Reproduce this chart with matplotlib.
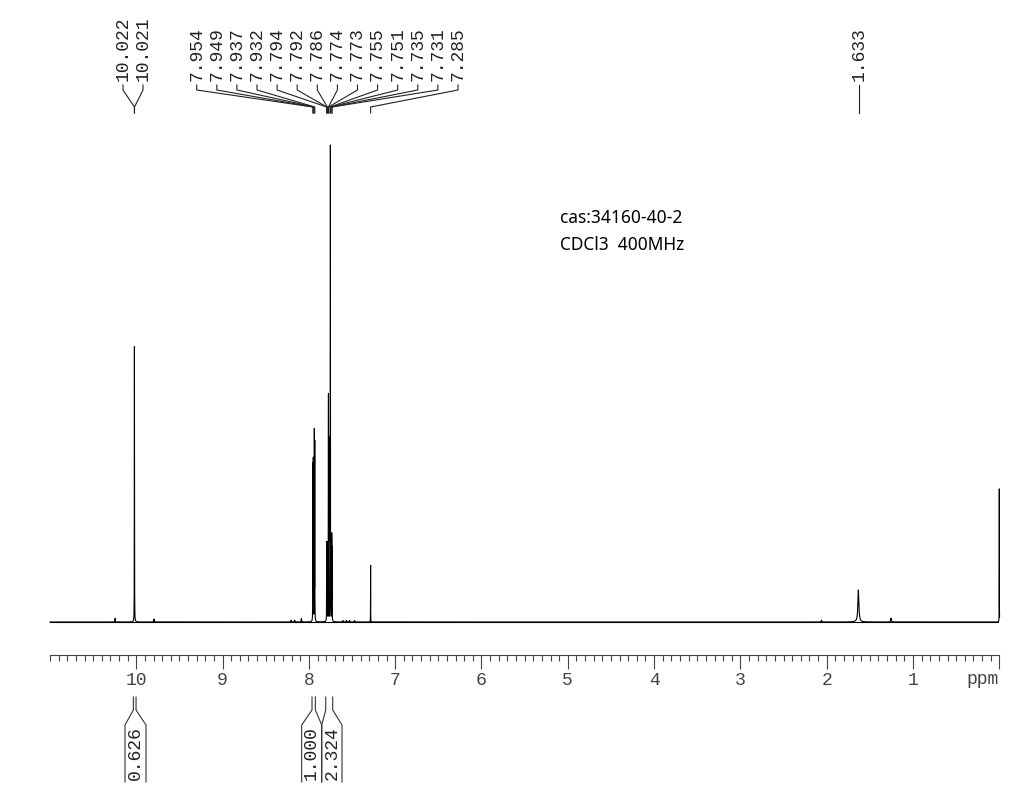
import numpy as np
import matplotlib

matplotlib.use("Agg")
import matplotlib.pyplot as plt
from matplotlib.ticker import MultipleLocator

# peak list: shift (ppm), height (tallest line = 100), half width (ppm)
peak_ppm = [10.245, 10.022, 10.021, 9.795, 8.205, 8.165, 8.087, 7.954, 7.949, 7.937, 7.932,
            7.794, 7.792, 7.786, 7.774, 7.773, 7.755, 7.751, 7.735, 7.731,
            7.605, 7.565, 7.530, 7.470, 7.285, 2.060, 1.633, 1.255, 0.000]
peak_height = [0.8, 40.0, 40.0, 0.6, 0.4, 0.4, 0.7, 32.5, 33.5, 39.5, 37.0,
               14.5, 14.5, 10.0, 33.0, 33.0, 35.0, 98.5, 17.8, 15.0,
               0.3, 0.3, 0.3, 0.3, 11.9, 0.4, 6.7, 0.8, 27.9]
peak_width = [0.002, 0.0008, 0.0008, 0.002, 0.003, 0.003, 0.003, 0.0008, 0.0008, 0.0008, 0.0008,
              0.0008, 0.0008, 0.0008, 0.0008, 0.0008, 0.0008, 0.0008, 0.0008, 0.0008,
              0.003, 0.003, 0.003, 0.003, 0.0006, 0.003, 0.007, 0.004, 0.0006]

# picked peak labels
label_ppm = [10.022, 10.021, 7.954, 7.949, 7.937, 7.932, 7.794, 7.792, 7.786,
             7.774, 7.773, 7.755, 7.751, 7.735, 7.731, 7.285, 1.633]

# integrals: (from, to) in ppm and value
integral_ranges = [(10.034, 10.003), (7.964, 7.925), (7.805, 7.724)]
integral_values = [0.626, 1.000, 2.324]

note_lines = ["cas:34160-40-2", "CDCl3  400MHz"]

W, H = 1023, 805
MONO = "Liberation Mono"

fig = plt.figure(figsize=(W / 100, H / 100), dpi=100)

# spectrum axes: axis line at y=655 px from top, baseline at 622, tallest top at 145
ax = fig.add_axes([50 / W, (H - 655) / H, 949.3 / W, 542 / H])
ppm = np.linspace(-0.003, 11.0, 220001)
spec = np.zeros_like(ppm)
for p, h, w in zip(peak_ppm, peak_height, peak_width):
    spec += h * w**2 / ((ppm - p) ** 2 + w**2)
ax.plot(ppm, spec, color="black", lw=0.8, clip_on=False)
ax.plot([11.0, 0.0], [0, 0], color="black", lw=0.8)

ax.set_xlim(11.0, 0.0)
ax.set_ylim(-33 / 4.77, (622 - 113) / 4.77)
for side in ["top", "left", "right"]:
    ax.spines[side].set_visible(False)
ax.spines["bottom"].set_color("#444444")
ax.spines["bottom"].set_linewidth(0.8)
ax.set_yticks([])
ax.set_xticks(range(0, 11))
ax.set_xticklabels([""] + [str(i) for i in range(1, 11)])
ax.xaxis.set_minor_locator(MultipleLocator(0.1))
ax.tick_params(axis="x", which="major", length=10, width=0.8, color="#444444",
               labelsize=13, labelcolor="#444444", pad=2)
ax.tick_params(axis="x", which="minor", length=4, width=0.8, color="#444444")
for t in ax.get_xticklabels():
    t.set_fontfamily(MONO)
ax.patch.set_alpha(0)

# overlay in pixel coordinates (y from top) for labels and integral brackets
ov = fig.add_axes([0, 0, 1, 1])
ov.set_xlim(0, W)
ov.set_ylim(H, 0)
ov.axis("off")


def px(p):
    return ax.transData.transform((p, 0))[0]


ov.text(999, 679, "ppm", ha="right", va="center", fontfamily=MONO,
        fontsize=13, color="#444444")

# peak label positions (layout)
label_x = [123, 143] + list(np.linspace(196.7, 458, 14)) + [859]
for xl, p in zip(label_x, label_ppm):
    ov.text(xl, 81, f"{p:.3f}", rotation=90, ha="center", va="bottom",
            fontfamily=MONO, fontsize=13, color="#222222")
    xp = px(p)
    if abs(xp - xl) < 1.5:
        ov.plot([xl, xl], [85, 113], color="#222222", lw=0.8)
    else:
        ov.plot([xl, xl, xp, xp], [85, 90, 107, 113], color="#222222", lw=0.8)

# integral brackets
box_edges = [(125, 146), (301.7, 321.7), (321.7, 342)]
for (hi, lo), val, (bl, br) in zip(integral_ranges, integral_values, box_edges):
    x1, x2 = px(hi), px(lo)
    ov.plot([x1, x1, bl, bl], [697, 710, 725, 782], color="#333333", lw=0.8)
    ov.plot([x2, x2, br, br], [697, 710, 725, 782], color="#333333", lw=0.8)
    ov.text((bl + br) / 2, 780, f"{val:.3f}", rotation=90, ha="center", va="bottom",
            fontfamily=MONO, fontsize=13, color="#222222")

for i, line in enumerate(note_lines):
    ov.text(560, 218 + 27 * i, line, ha="left", va="center",
            fontfamily="Noto Sans", fontsize=12.5, color="black")

fig.savefig("out.png", dpi=100)
